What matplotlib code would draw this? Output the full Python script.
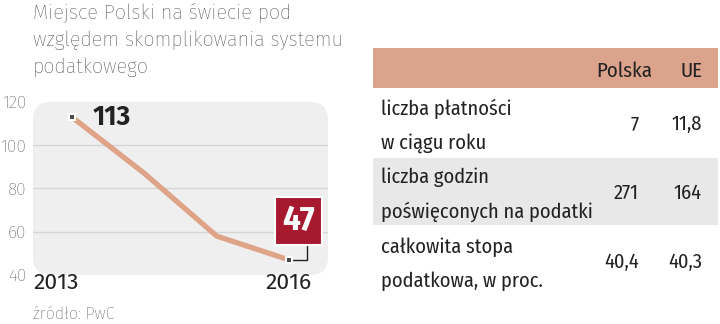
import matplotlib.pyplot as plt
from matplotlib.patches import FancyBboxPatch, Rectangle
from matplotlib.transforms import blended_transform_factory

WASKI = ["Fira Sans Condensed", "Roboto Condensed", "DejaVu Sans"]
ZWYKLY = ["Fira Sans", "Roboto", "DejaVu Sans"]
plt.rcParams["font.family"] = WASKI

# ranking Polski (Paying Taxes, PwC)
lata = [2013, 2014, 2015, 2016]
miejsce = [113, 87, 58, 47]

# tabela porownawcza
naglowki = ["Polska", "UE"]
wiersze = [
    ["liczba płatności", "w ciągu roku"],
    ["liczba godzin", "poświęconych na podatki"],
    ["całkowita stopa", "podatkowa, w proc."],
]
polska = ["7", "271", "40,4"]
ue = ["11,8", "164", "40,3"]

KOLOR_LINII = "#dfa387"
KOLOR_NAGL = "#dba28c"
KOLOR_PASKA = "#e8e8e8"
CZERWONY = "#a6192e"
TEKST = "#222222"

W, H = 720, 324
fig = plt.figure(figsize=(W / 100, H / 100), dpi=100)


def px(x0, y0, x1, y1):
    return [x0 / W, 1 - y1 / H, (x1 - x0) / W, (y1 - y0) / H]


# --- wykres ---
ax = fig.add_axes(px(33, 102, 328, 275))
ax.set_xlim(2012.46, 2016.54)
ax.set_ylim(40, 120)
ax.patch.set_alpha(0)
for s in ax.spines.values():
    s.set_visible(False)

tlo = FancyBboxPatch((0, 0), 1, 1, boxstyle="round,pad=0,rounding_size=0.06",
                     transform=ax.transAxes, facecolor="#efefef",
                     edgecolor="none", zorder=0, clip_on=False,
                     mutation_aspect=295 / 173)
ax.add_patch(tlo)
for g in [60, 80, 100]:
    ax.axhline(g, color="#d6d6d6", lw=1, zorder=1)

ax.set_yticks([40, 60, 80, 100, 120])
ax.tick_params(axis="y", length=0, pad=5, labelsize=12.5, labelcolor="#333333")
for t in ax.get_yticklabels():
    t.set_fontfamily(ZWYKLY)
    t.set_fontweight("light")
ax.set_xticks([])

ax.plot(lata, miejsce, color=KOLOR_LINII, lw=3.8, solid_capstyle="butt",
        zorder=2)
ax.plot([lata[0], lata[-1]], [miejsce[0], miejsce[-1]], ls="none",
        marker="s", ms=5, mfc="#444444", mec="white", mew=1.5, zorder=3)

btr = blended_transform_factory(ax.transData, ax.transAxes)
ax.text(ax.get_xlim()[0], -0.045, str(lata[0]), transform=btr, ha="left",
        va="center", fontsize=16.5, color=TEKST, family=ZWYKLY)
ax.text(lata[-1], -0.045, str(lata[-1]), transform=btr, ha="center",
        va="center", fontsize=16.5, color=TEKST, family=ZWYKLY)

ax.annotate(str(miejsce[0]), (lata[0], miejsce[0]), xytext=(15, 0),
            textcoords="offset points", ha="left", va="center",
            fontsize=19, fontweight="bold", color=TEKST, family=ZWYKLY)

ax.annotate(str(miejsce[-1]), (lata[-1], miejsce[-1]), xytext=(7, 28),
            textcoords="offset points", ha="center", va="center",
            fontsize=25, fontweight="bold", color="white", zorder=5,
            bbox=dict(boxstyle="square,pad=0.2", fc=CZERWONY, ec="white",
                      lw=1.5),
            arrowprops=dict(arrowstyle="-", color="#222222", lw=1,
                            relpos=(0.75, 0), shrinkA=0, shrinkB=3,
                            connectionstyle="angle,angleA=-90,angleB=180,rad=0"))

# --- tytul i zrodlo ---
tytul = ["Miejsce Polski na świecie pod", "względem skomplikowania systemu",
         "podatkowego"]
for i, linia in enumerate(tytul):
    fig.text(33 / W, 1 - (13 + 27 * i) / H, linia, ha="left", va="center",
             fontsize=14.3, color="#2a2a2a", family=ZWYKLY, fontweight="light")
fig.text(33 / W, 1 - 314 / H, "źródło: PwC", ha="left", va="center",
         fontsize=11.8, color="#3a3a3a", family=ZWYKLY, fontweight="light")

# --- tabela ---
tb = fig.add_axes([0, 0, 1, 1])
tb.set_xlim(0, W)
tb.set_ylim(H, 0)
tb.axis("off")

x_lewo, x_prawo = 373, 718
nagl_x = [652, 702]
kol_x = [639, 702]
tb.add_patch(Rectangle((x_lewo, 48), x_prawo - x_lewo, 40, fc=KOLOR_NAGL,
                       ec="none"))
for nag, x in zip(naglowki, nagl_x):
    tb.text(x, 71, nag, ha="right", va="center", fontsize=15, color=TEKST)

wysokosci = [70, 67, 72]
yt = 88
for i, (opis, pl, eu) in enumerate(zip(wiersze, polska, ue)):
    h = wysokosci[i]
    if i % 2 == 1:
        tb.add_patch(Rectangle((x_lewo, yt), x_prawo - x_lewo, h,
                               fc=KOLOR_PASKA, ec="none"))
    yc = yt + h / 2
    tb.text(381, yc + 3 - 17, opis[0], ha="left", va="center", fontsize=14.7,
            color=TEKST)
    tb.text(381, yc + 3 + 17, opis[1], ha="left", va="center", fontsize=14.7,
            color=TEKST)
    tb.text(kol_x[0], yc + 1.5, pl, ha="right", va="center", fontsize=14.7,
            color=TEKST)
    tb.text(kol_x[1], yc + 1.5, eu, ha="right", va="center", fontsize=14.7,
            color=TEKST)
    yt += h

fig.savefig("out.png", dpi=100)
